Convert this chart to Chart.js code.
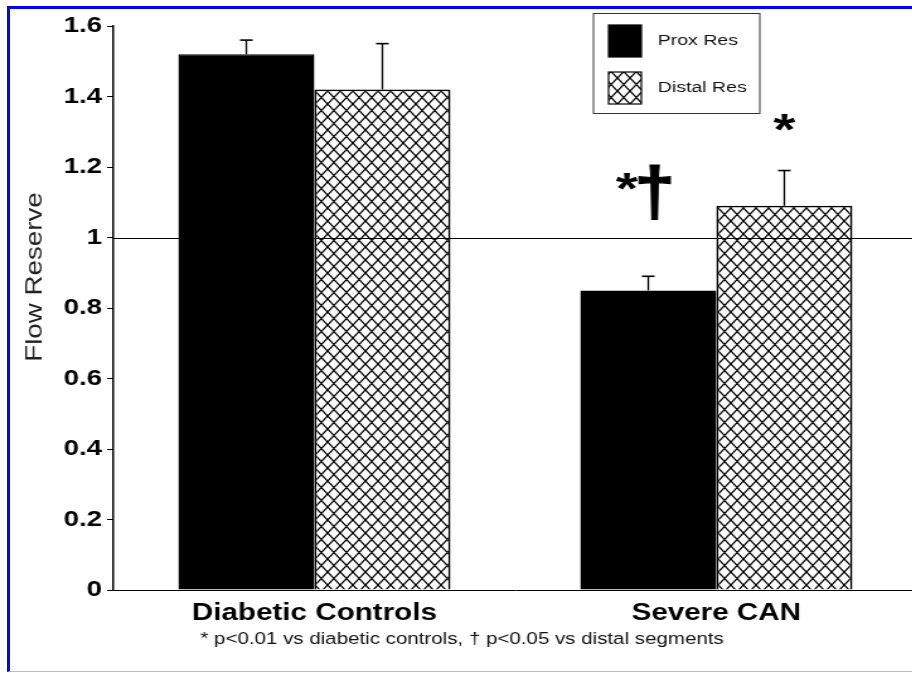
<!DOCTYPE html>
<html>
<head>
<meta charset="utf-8">
<script src="https://cdn.jsdelivr.net/npm/chart.js@4"></script>
<style>
html, body { margin: 0; padding: 0; background: #fff; overflow: hidden; width: 912px; height: 673px; }
#frame { position: absolute; left: 7px; top: 6px; width: 920px; height: 662px;
  border-left: 3px solid #0000ff; border-top: 3px solid #0000ff; border-bottom: 1px solid #b4b4ff; }
/* the original figure is stretched sideways, so the whole canvas is too */
#wrap { position: absolute; left: 0; top: 0; transform: scaleX(1.26); transform-origin: 0 0; }
canvas { display: block; }
</style>
</head>
<body>
<div id="frame"></div>
<div id="wrap"><canvas id="flowChart" width="733" height="673"></canvas></div>
<script>
const categories = ["Diabetic Controls", "Severe CAN"];
const proxRes = [1.52, 0.85];
const proxErr = [0.04, 0.04];
const distalRes = [1.42, 1.09];
const distalErr = [0.13, 0.10];
const yTicks = [0, 0.2, 0.4, 0.6, 0.8, 1, 1.2, 1.4, 1.6];
const REF_LINE = 1;
const Y_TITLE = "Flow Reserve";
const FOOTNOTE = "* p<0.01 vs diabetic controls, \u2020 p<0.05 vs distal segments";
// significance marks, hung above the error bar of a bar
const marks = [
  { dataset: 0, index: 1, text: "*\u2020" },
  { dataset: 1, index: 1, text: "*" }
];

const FONT = "'Liberation Sans', Arial, Helvetica, sans-serif";

function makeHatch() {
  const w = 10, h = 13;
  const c = document.createElement("canvas");
  c.width = w; c.height = h;
  const g = c.getContext("2d");
  g.fillStyle = "#fff";
  g.fillRect(0, 0, w, h);
  g.strokeStyle = "#000";
  g.lineWidth = 1.3;
  g.beginPath();
  for (let dx = -w; dx <= w; dx += w) {
    for (let dy = -h; dy <= h; dy += h) {
      g.moveTo(dx, dy); g.lineTo(dx + w, dy + h);
      g.moveTo(dx + w, dy); g.lineTo(dx, dy + h);
    }
  }
  g.stroke();
  return g.createPattern(c, "repeat");
}
const hatch = makeHatch();

const extras = {
  id: "extras",
  afterDatasetsDraw(chart) {
    const { ctx, chartArea, scales } = chart;
    const y = scales.y;

    // reference line at 1
    const ry = Math.round(y.getPixelForValue(REF_LINE)) + 0.5;
    ctx.save();
    ctx.strokeStyle = "#000";
    ctx.lineWidth = 1;
    ctx.beginPath();
    ctx.moveTo(chartArea.left, ry);
    ctx.lineTo(chartArea.right, ry);
    ctx.stroke();

    // upper error bars
    chart.data.datasets.forEach((ds, i) => {
      chart.getDatasetMeta(i).data.forEach((bar, j) => {
        const top = y.getPixelForValue(ds.data[j] + ds.errors[j]);
        ctx.lineWidth = 1.3;
        ctx.beginPath();
        ctx.moveTo(bar.x, bar.y);
        ctx.lineTo(bar.x, top);
        ctx.stroke();
        ctx.lineWidth = 1.6;
        ctx.beginPath();
        ctx.moveTo(bar.x - 5, top);
        ctx.lineTo(bar.x + 5, top);
        ctx.stroke();
      });
    });

    // significance marks
    ctx.fillStyle = "#000";
    ctx.strokeStyle = "#000";
    ctx.textAlign = "center";
    ctx.textBaseline = "alphabetic";
    marks.forEach(m => {
      const ds = chart.data.datasets[m.dataset];
      const bar = chart.getDatasetMeta(m.dataset).data[m.index];
      const top = y.getPixelForValue(ds.data[m.index] + ds.errors[m.index]);
      if (m.text.length > 1) {
        ctx.font = "bold 45px " + FONT;
        ctx.fillText("*", bar.x - 17, top - 72);
        ctx.save();
        ctx.translate(bar.x + 5, top - 61);
        ctx.scale(0.85, 1);
        ctx.font = "bold 69px " + FONT;
        ctx.lineWidth = 1.2;
        ctx.fillText("\u2020", 0, 0);
        ctx.strokeText("\u2020", 0, 0);
        ctx.restore();
      } else {
        ctx.font = "bold 45px " + FONT;
        ctx.fillText(m.text, bar.x, top - 26);
      }
    });
    ctx.restore();
  },
  afterDraw(chart) {
    const { ctx } = chart;
    ctx.save();

    // y axis title, wider letters than the font gives
    ctx.save();
    ctx.translate(28, 277);
    ctx.rotate(-Math.PI / 2);
    ctx.scale(1.46, 1);
    ctx.fillStyle = "#222";
    ctx.font = "19px " + FONT;
    ctx.textAlign = "center";
    ctx.textBaseline = "middle";
    ctx.fillText(Y_TITLE, 0, 0);
    ctx.restore();

    // legend box
    ctx.strokeStyle = "#333";
    ctx.lineWidth = 1;
    ctx.strokeRect(471, 13.5, 132, 100);
    chart.data.datasets.forEach((ds, i) => {
      const sy = 25 + i * 47;
      ctx.fillStyle = ds.backgroundColor;
      ctx.fillRect(483, sy, 26, 32);
      ctx.strokeStyle = "#000";
      ctx.lineWidth = 1.2;
      ctx.strokeRect(483, sy, 26, 32);
      ctx.fillStyle = "#111";
      ctx.font = "15.5px " + FONT;
      ctx.textAlign = "left";
      ctx.textBaseline = "middle";
      ctx.fillText(ds.label, 522, sy + 16);
    });

    // footnote
    ctx.fillStyle = "#111";
    ctx.font = "16.3px " + FONT;
    ctx.textAlign = "center";
    ctx.textBaseline = "middle";
    ctx.fillText(FOOTNOTE, 366.7, 640);
    ctx.restore();
  }
};

const ctx = document.getElementById("flowChart").getContext("2d");

const chart = new Chart(ctx, {
  type: "bar",
  data: {
    labels: categories,
    datasets: [
      {
        label: "Prox Res",
        data: proxRes,
        errors: proxErr,
        backgroundColor: "#000",
        borderColor: "#000",
        borderWidth: 1.5
      },
      {
        label: "Distal Res",
        data: distalRes,
        errors: distalErr,
        backgroundColor: hatch,
        borderColor: "#000",
        borderWidth: 1.8
      }
    ]
  },
  options: {
    responsive: false,
    animation: false,
    events: [],
    layout: { padding: { top: 26, right: 5, bottom: 0, left: 0 } },
    datasets: { bar: { barPercentage: 1, categoryPercentage: 0.677 } },
    plugins: {
      legend: { display: false },
      tooltip: { enabled: false }
    },
    scales: {
      x: {
        grid: { display: false, drawTicks: false },
        border: { color: "#000", width: 1 },
        ticks: {
          color: "#000",
          padding: 9,
          font: { family: FONT, size: 23.5, weight: "bold" }
        },
        afterFit(scale) { scale.height = 83; }
      },
      y: {
        min: 0,
        max: 1.6,
        afterBuildTicks(scale) {
          scale.ticks = yTicks.map(v => ({ value: v }));
        },
        grid: { drawOnChartArea: false, drawTicks: true, tickLength: 5, color: "#000" },
        border: { color: "#000", width: 1.5 },
        ticks: {
          color: "#000",
          padding: 4,
          font: { family: FONT, size: 22, weight: "bold" },
          callback: v => String(+Number(v).toFixed(1))
        },
        afterFit(scale) { scale.width = 90; }
      }
    }
  },
  plugins: [extras]
});
</script>
</body>
</html>
